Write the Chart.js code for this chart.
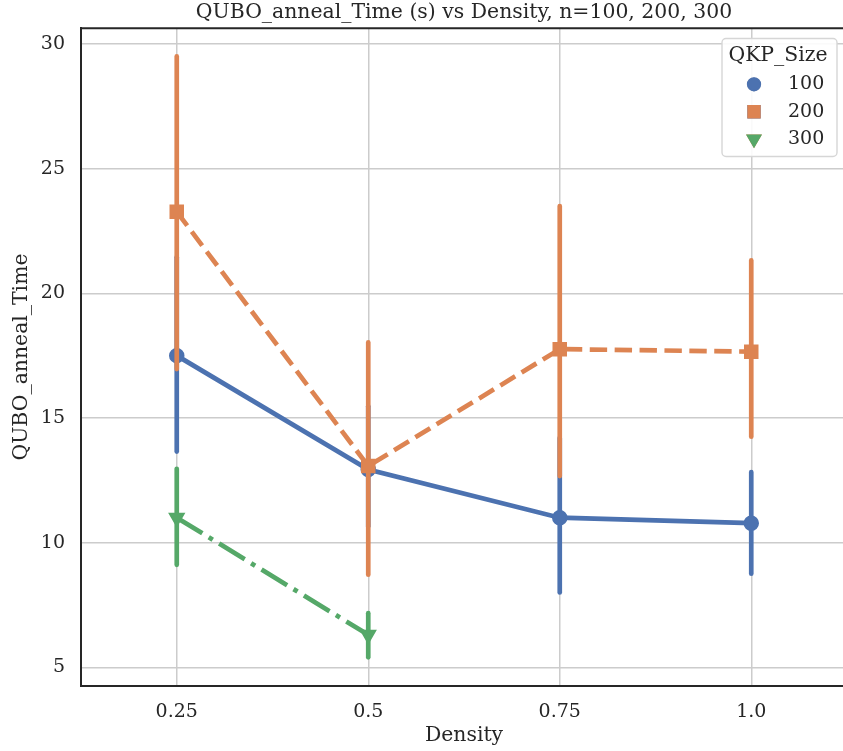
<!DOCTYPE html>
<html>
<head>
<meta charset="utf-8">
<script src="https://cdn.jsdelivr.net/npm/chart.js@4.4.1/dist/chart.umd.min.js"></script>
<style>
  html, body { margin: 0; padding: 0; background: #ffffff; overflow: hidden; }
</style>
</head>
<body>
<canvas id="annealChart" width="860" height="751"></canvas>
<script>
const densities = ['0.25', '0.5', '0.75', '1.0'];
const sizeLabels = ['100', '200', '300'];

// mean anneal time and error bar ends for each QKP size
const mean100 = [17.5, 12.93, 11.0, 10.78];
const low100 = [13.65, 10.66, 8.0, 8.75];
const high100 = [21.45, 15.47, 14.2, 12.83];

const mean200 = [23.27, 13.07, 17.76, 17.66];
const low200 = [16.96, 8.71, 12.67, 14.25];
const high200 = [29.5, 18.03, 23.5, 21.32];

const mean300 = [11.0, 6.3, null, null];
const low300 = [9.11, 5.4, null, null];
const high300 = [12.96, 7.17, null, null];

const yTicks = [5, 10, 15, 20, 25, 30];

const chartTitle = 'QUBO_anneal_Time (s) vs Density, n=100, 200, 300';
const legendTitle = 'QKP_Size';

const textColor = '#262626';
const gridColor = '#cccccc';
const fontFamily = "'DejaVu Serif', serif";
const tickSize = 19;
const labelSize = 20.4;
const lineW = 4.7;

function makeSeries(label, means, lows, highs, color, pointStyle, radius, dash, order) {
    return {
        label: label,
        data: means,
        errLow: lows,
        errHigh: highs,
        borderColor: color,
        backgroundColor: color,
        borderWidth: lineW,
        borderDash: dash,
        borderCapStyle: 'butt',
        pointStyle: pointStyle,
        pointRotation: pointStyle === 'triangle' ? 180 : 0,
        pointRadius: radius,
        pointBorderWidth: 1.5,
        pointBackgroundColor: color,
        pointBorderColor: color,
        pointHoverRadius: radius,
        tension: 0,
        spanGaps: false,
        order: order
    };
}

// vertical error bars, drawn right before each series so later series sit on top
const errorBarPlugin = {
    id: 'errorBars',
    beforeDatasetDraw(chart, args) {
        const ds = chart.data.datasets[args.index];
        if (!ds.errLow) return;
        const ctx = chart.ctx;
        const xs = chart.scales.x;
        const ys = chart.scales.y;
        ctx.save();
        ctx.strokeStyle = ds.borderColor;
        ctx.lineWidth = lineW;
        ctx.lineCap = 'round';
        ctx.setLineDash([]);
        ds.errLow.forEach((lo, i) => {
            const hi = ds.errHigh[i];
            if (lo === null || hi === null) return;
            const x = xs.getPixelForValue(i);
            ctx.beginPath();
            ctx.moveTo(x, ys.getPixelForValue(lo));
            ctx.lineTo(x, ys.getPixelForValue(hi));
            ctx.stroke();
        });
        ctx.restore();
    }
};

// title above the axes, top spine and the boxed legend in the upper right
const decorPlugin = {
    id: 'decor',
    afterDraw(chart) {
        const ctx = chart.ctx;
        const area = chart.chartArea;
        ctx.save();

        ctx.strokeStyle = textColor;
        ctx.lineWidth = 2;
        ctx.beginPath();
        ctx.moveTo(area.left - 1, area.top);
        ctx.lineTo(area.right, area.top);
        ctx.stroke();

        ctx.fillStyle = textColor;
        ctx.font = labelSize + 'px ' + fontFamily;
        ctx.textAlign = 'center';
        ctx.textBaseline = 'middle';
        ctx.fillText(chartTitle, (area.left + area.right) / 2, 13);

        // legend frame
        const bx = 722, by = 38.5, bw = 115, bh = 118;
        ctx.beginPath();
        ctx.roundRect(bx, by, bw, bh, 4);
        ctx.fillStyle = 'rgba(255,255,255,0.9)';
        ctx.fill();
        ctx.strokeStyle = '#d6d6d6';
        ctx.lineWidth = 1.4;
        ctx.stroke();

        ctx.fillStyle = textColor;
        ctx.textAlign = 'center';
        ctx.fillText(legendTitle, 778, 56);

        ctx.font = tickSize + 'px ' + fontFamily;
        const rowY = [84.3, 111.7, 139];
        chart.data.datasets.forEach((ds, i) => {
            const y = rowY[i];
            Chart.helpers.drawPoint(ctx, {
                pointStyle: ds.pointStyle,
                rotation: ds.pointRotation,
                radius: ds.pointRadius * 0.92,
                borderWidth: 1.5
            }, 754, y);
            ctx.fillStyle = ds.borderColor;
            ctx.strokeStyle = ds.borderColor;
            ctx.fill();
            ctx.stroke();
            ctx.fillStyle = textColor;
            ctx.textAlign = 'left';
            ctx.fillText(ds.label, 788, y);
        });
        ctx.restore();
    }
};

const tickFont = { family: fontFamily, size: tickSize };
const labelFont = { family: fontFamily, size: labelSize };

new Chart(document.getElementById('annealChart'), {
    type: 'line',
    data: {
        labels: densities,
        datasets: [
            makeSeries(sizeLabels[0], mean100, low100, high100, '#4c72b0', 'circle', 7, [], 2),
            makeSeries(sizeLabels[1], mean200, low200, high200, '#dd8452', 'rect', 9.2, [17.4, 7.5], 1),
            makeSeries(sizeLabels[2], mean300, low300, high300, '#55a868', 'triangle', 8.5, [30, 7.5, 4.7, 7.5], 0)
        ]
    },
    options: {
        responsive: false,
        animation: false,
        events: [],
        layout: { padding: { top: 28.3, right: 13, left: 0, bottom: 0 } },
        plugins: {
            legend: { display: false },
            tooltip: { enabled: false },
            title: { display: false }
        },
        scales: {
            x: {
                type: 'category',
                offset: true,
                grid: { offset: false, color: gridColor, lineWidth: 1.5, drawTicks: false },
                border: { color: textColor, width: 2 },
                ticks: { color: textColor, font: tickFont, padding: 14.9, maxRotation: 0 },
                title: {
                    display: true,
                    text: 'Density',
                    color: textColor,
                    font: labelFont,
                    padding: { top: 0, bottom: 3.3 }
                },
                afterFit: scale => { scale.height = 65.3; }
            },
            y: {
                type: 'linear',
                min: 4.26,
                max: 30.63,
                grid: { color: gridColor, lineWidth: 1.5, drawTicks: false },
                border: { color: textColor, width: 2 },
                ticks: { color: textColor, font: tickFont, padding: 16 },
                afterBuildTicks: scale => { scale.ticks = yTicks.map(v => ({ value: v })); },
                title: {
                    display: true,
                    text: 'QUBO_anneal_Time',
                    color: textColor,
                    font: labelFont,
                    padding: { top: 9.8, bottom: 0 }
                },
                afterFit: scale => { scale.width = 81; }
            }
        }
    },
    plugins: [errorBarPlugin, decorPlugin]
});
</script>
</body>
</html>
